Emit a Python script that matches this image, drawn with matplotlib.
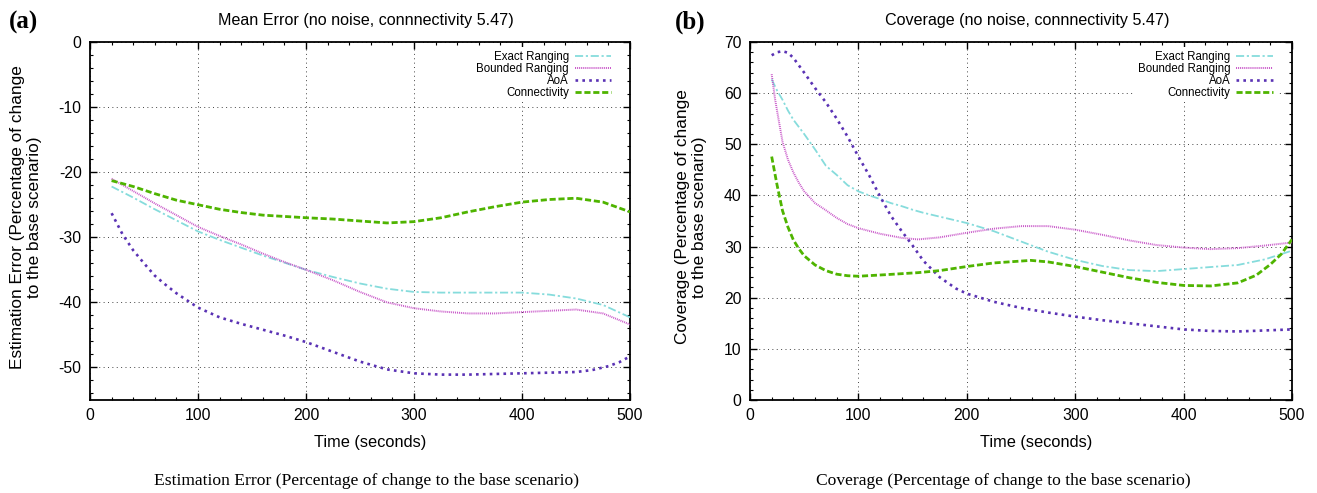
import matplotlib
matplotlib.use("Agg")
import matplotlib.pyplot as plt
from matplotlib.ticker import MultipleLocator

# ---------------- data ----------------
series_names = ["Exact Ranging", "Bounded Ranging", "AoA", "Connectivity"]

# (a) Mean Error
err_exact_t = [20, 40, 60, 80, 100, 120, 140, 160, 180, 200, 225, 250, 275, 300, 325, 350, 375, 400, 425, 450, 475, 500]
err_exact_v = [-22.2, -23.9, -25.7, -27.4, -29.1, -30.4, -31.6, -32.8, -33.9, -35.0, -36.1, -37.1, -37.9, -38.4, -38.5, -38.5, -38.5, -38.5, -38.8, -39.4, -40.4, -42.3]
err_bounded_t = [20, 40, 60, 80, 100, 120, 140, 160, 180, 200, 225, 250, 275, 300, 325, 350, 375, 400, 425, 450, 475, 500]
err_bounded_v = [-21.0, -22.9, -24.8, -26.6, -28.4, -29.8, -31.1, -32.5, -33.8, -35.0, -36.6, -38.4, -40.0, -40.9, -41.4, -41.7, -41.7, -41.5, -41.3, -41.1, -41.7, -43.4]
err_aoa_t = [20, 30, 40, 50, 60, 70, 80, 90, 100, 120, 140, 160, 180, 200, 225, 250, 275, 300, 325, 350, 375, 400, 425, 450, 465, 480, 490, 500]
err_aoa_v = [-26.3, -29.5, -32.0, -34.0, -35.9, -37.3, -38.6, -39.7, -40.8, -42.3, -43.3, -44.2, -45.1, -46.1, -47.6, -49.1, -50.3, -50.9, -51.1, -51.1, -51.0, -50.9, -50.8, -50.7, -50.4, -49.8, -49.2, -48.3]
err_conn_t = [20, 40, 60, 80, 100, 120, 140, 160, 180, 200, 225, 250, 275, 300, 325, 350, 375, 400, 425, 450, 475, 500]
err_conn_v = [-21.3, -22.2, -23.3, -24.3, -25.0, -25.7, -26.2, -26.6, -26.8, -27.0, -27.2, -27.5, -27.8, -27.6, -27.0, -26.1, -25.3, -24.6, -24.2, -24.0, -24.6, -26.1]

# (b) Coverage
cov_exact_t = [20, 25, 30, 35, 40, 50, 60, 70, 80, 90, 100, 110, 120, 130, 140, 150, 160, 180, 200, 225, 250, 275, 300, 325, 350, 375, 400, 425, 450, 475, 500]
cov_exact_v = [62.7, 60.5, 58.7, 56.6, 54.8, 52.0, 49.0, 45.8, 44.0, 42.0, 40.8, 40.0, 39.3, 38.5, 37.9, 37.2, 36.6, 35.6, 34.6, 33.0, 31.0, 29.0, 27.4, 26.2, 25.4, 25.2, 25.6, 26.0, 26.4, 27.5, 29.2]
cov_bounded_t = [20, 23, 25, 30, 35, 40, 45, 50, 60, 70, 80, 90, 100, 120, 140, 155, 175, 200, 225, 250, 275, 300, 325, 350, 375, 400, 425, 450, 475, 500]
cov_bounded_v = [63.7, 59.0, 56.5, 50.5, 47.0, 44.5, 42.5, 40.8, 38.5, 37.1, 35.6, 34.4, 33.6, 32.5, 31.7, 31.4, 31.8, 32.7, 33.5, 34.0, 34.0, 33.3, 32.3, 31.2, 30.3, 29.8, 29.5, 29.7, 30.2, 30.8]
cov_aoa_t = [20, 25, 30, 35, 40, 50, 60, 70, 80, 90, 100, 110, 120, 130, 140, 150, 160, 175, 190, 200, 225, 250, 275, 300, 325, 350, 375, 400, 425, 450, 475, 500]
cov_aoa_v = [67.4, 68.0, 68.2, 67.9, 66.9, 64.0, 61.0, 58.2, 55.0, 51.5, 47.6, 43.9, 39.8, 36.0, 33.0, 30.2, 27.2, 24.0, 21.8, 20.8, 19.2, 18.0, 17.1, 16.3, 15.6, 15.0, 14.4, 13.8, 13.5, 13.4, 13.6, 13.8]
cov_conn_t = [20, 25, 30, 35, 40, 45, 50, 60, 70, 80, 90, 100, 125, 155, 175, 200, 225, 259, 275, 300, 325, 350, 375, 400, 425, 450, 467, 480, 490, 500]
cov_conn_v = [47.6, 42.0, 37.0, 33.8, 31.3, 29.6, 28.2, 26.4, 25.3, 24.6, 24.3, 24.2, 24.5, 24.9, 25.3, 26.1, 26.8, 27.3, 27.0, 26.1, 25.0, 23.9, 23.0, 22.4, 22.3, 22.9, 24.4, 26.5, 28.5, 31.4]

x_ticks = [0, 100, 200, 300, 400, 500]
err_yticks = [0, -10, -20, -30, -40, -50]
cov_yticks = [0, 10, 20, 30, 40, 50, 60, 70]

titles = ["Mean Error (no noise, connnectivity 5.47)", "Coverage (no noise, connnectivity 5.47)"]
ylabels = ["Estimation Error (Percentage of change\nto the base scenario)",
           "Coverage (Percentage of change\nto the base scenario)"]
captions = ["Estimation Error (Percentage of change to the base scenario)",
            "Coverage (Percentage of change to the base scenario)"]
panel_tags = ["(a)", "(b)"]
xlabel = "Time (seconds)"

# ---------------- styles ----------------
colors = ["#86dcdc", "#c855c8", "#5a32b4", "#4fb400"]
styles = [(0, (4.5, 1.5, 1.2, 1.5)), (0, (0.5, 0.5)), (0, (1.0, 1.6)), (0, (2.2, 1.0))]
widths = [1.3, 1.4, 1.9, 2.0]

W, H = 1317, 493
plt.rcParams["axes.unicode_minus"] = False
sans = ["Liberation Sans", "DejaVu Sans"]
serif = ["Liberation Serif", "DejaVu Serif"]
plt.rcParams["font.family"] = sans
fig = plt.figure(figsize=(W / 100, H / 100), dpi=100)

ax_left_px = [90, 750]
ax_right_px = [630, 1292]
top_px, bot_px = 42, 400

data = [
    [(err_exact_t, err_exact_v), (err_bounded_t, err_bounded_v), (err_aoa_t, err_aoa_v), (err_conn_t, err_conn_v)],
    [(cov_exact_t, cov_exact_v), (cov_bounded_t, cov_bounded_v), (cov_aoa_t, cov_aoa_v), (cov_conn_t, cov_conn_v)],
]
ylims = [(-55, 0), (0, 70)]
yticks = [err_yticks, cov_yticks]
ylabel_x = [26, 691]
tag_x = [23, 690]
xlabel_dx = [10, 15]
caption_cx = [366, 1003]

for i in range(2):
    l, r = ax_left_px[i], ax_right_px[i]
    ax = fig.add_axes([l / W, 1 - bot_px / H, (r - l) / W, (bot_px - top_px) / H])
    for j, (t, v) in enumerate(data[i]):
        ax.plot(t, v, color=colors[j], linestyle=styles[j], linewidth=widths[j],
                label=series_names[j], zorder=3)
    ax.set_xlim(0, 500)
    ax.set_ylim(*ylims[i])
    ax.set_xticks(x_ticks)
    ax.set_yticks(yticks[i])
    ax.xaxis.set_minor_locator(MultipleLocator(20))
    ax.yaxis.set_minor_locator(MultipleLocator(2))
    ax.tick_params(which="both", direction="in", top=True, right=True, labelsize=11.3, colors="black")
    ax.tick_params(which="major", length=5, width=1.0, pad=6)
    ax.tick_params(which="minor", length=2.5, width=0.8)
    for s in ax.spines.values():
        s.set_linewidth(1.3)
    ax.grid(True, which="major", color="#444444", linestyle=(0, (1, 3.5)), linewidth=0.7, zorder=1)
    leg = ax.legend(loc="upper right", bbox_to_anchor=(0.972, 0.985), fontsize=8.3, markerfirst=False,
                    frameon=True, fancybox=False, framealpha=1, edgecolor="none", facecolor="white",
                    handlelength=3.2, labelspacing=0.0, borderpad=0.3, handletextpad=0.5, borderaxespad=0)
    for txt in leg.get_texts():
        txt.set_ha("right")
    leg.set_zorder(5)
    cx = (l + r) / 2
    fig.text((cx + 6) / W, 1 - 21 / H, titles[i], ha="center", va="center", fontsize=11.6)
    fig.text((cx + xlabel_dx[i]) / W, 1 - 443 / H, xlabel, ha="center", va="center", fontsize=11.8)
    fig.text(ylabel_x[i] / W, 1 - 217 / H, ylabels[i], rotation=90,
             ha="center", va="center", multialignment="center", fontsize=12.4, linespacing=1.2)
    fig.text(tag_x[i] / W, 1 - 22 / H, panel_tags[i], ha="center", va="center", fontsize=18,
             fontweight="bold", family=serif)
    fig.text(caption_cx[i] / W, 1 - 481 / H, captions[i], ha="center",
             va="center", fontsize=12.6, family=serif)

fig.savefig("out.png", dpi=100)
